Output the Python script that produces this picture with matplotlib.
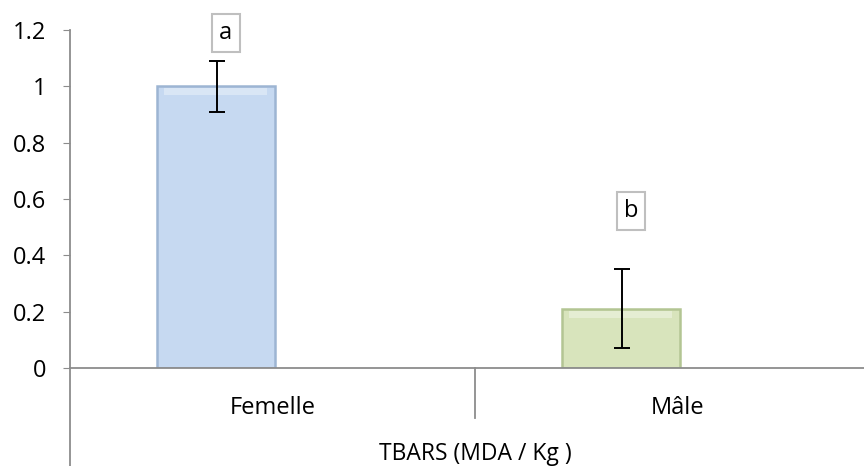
import matplotlib
matplotlib.use("Agg")
import matplotlib.pyplot as plt
from matplotlib.ticker import FuncFormatter

# data
categories = ["Femelle", "Mâle"]
values = [1.0, 0.21]
errors = [0.09, 0.14]
letters = ["a", "b"]
letter_y = [1.19, 0.557]
axis_title = "TBARS (MDA / Kg )"

bar_colors = ["#C6D9F1", "#D8E4BC"]
edge_colors = ["#9DB5D3", "#B3C593"]
axis_gray = "#8C8C8C"

plt.rcParams["font.family"] = ["Open Sans", "DejaVu Sans"]

fig = plt.figure(figsize=(8.64, 4.66), dpi=100)
W, H = 864, 466
x0, y0, y1 = 70, 368, 30
cat_w = 405
ax = fig.add_axes([x0 / W, (H - y0) / H, (W - x0) / W, (y0 - y1) / H])

xlim_right = (W - x0) / cat_w - 0.5
ax.set_xlim(-0.5, xlim_right)
ax.set_ylim(0, 1.2)

offset = -0.14
bw = 0.29
xs = [i + offset for i in range(len(categories))]
for x, v, e, fc, ec in zip(xs, values, errors, bar_colors, edge_colors):
    ax.bar(x, v, width=bw, color=fc, edgecolor=ec, linewidth=1.8, zorder=2)
    # light band along the top edge (bevel look)
    ax.bar(x, 0.025, bottom=v - 0.032, width=bw * 0.88,
           color="white", alpha=0.35, linewidth=0, zorder=3)
    ax.errorbar(x + 0.004, v, yerr=e, fmt="none", ecolor="black",
                elinewidth=1.4, capsize=5.5, capthick=1.4, zorder=4)

for x, ly, t in zip(xs, letter_y, letters):
    ax.text(x + 0.025, ly, t, ha="center", va="center", fontsize=17,
            bbox=dict(boxstyle="square,pad=0.3", fc="white", ec="#BFBFBF", lw=1.5))

for s in ["top", "right"]:
    ax.spines[s].set_visible(False)
for s in ["left", "bottom"]:
    ax.spines[s].set_color(axis_gray)
    ax.spines[s].set_linewidth(1.3)

ax.set_yticks([0, 0.2, 0.4, 0.6, 0.8, 1.0, 1.2])
ax.yaxis.set_major_formatter(FuncFormatter(lambda v, p: f"{v:g}"))
ax.tick_params(axis="y", direction="out", length=5, color=axis_gray,
               labelsize=17, pad=12)
ax.set_xticks(range(len(categories)))
ax.set_xticklabels(categories, fontsize=17)
ax.tick_params(axis="x", length=0, pad=20)

# multi-level category axis lines
px = 1 / 281.7
ax.plot([-0.5, -0.5], [0, -(H - y0) * px], color=axis_gray, lw=1.3,
        clip_on=False, zorder=1)
ax.plot([0.5, 0.5], [0, -50 * px], color=axis_gray, lw=1.3,
        clip_on=False, zorder=1)
ax.text(0.5, -86 * px, axis_title, ha="center", va="center", fontsize=16.5)

fig.savefig("out.png", dpi=100)
